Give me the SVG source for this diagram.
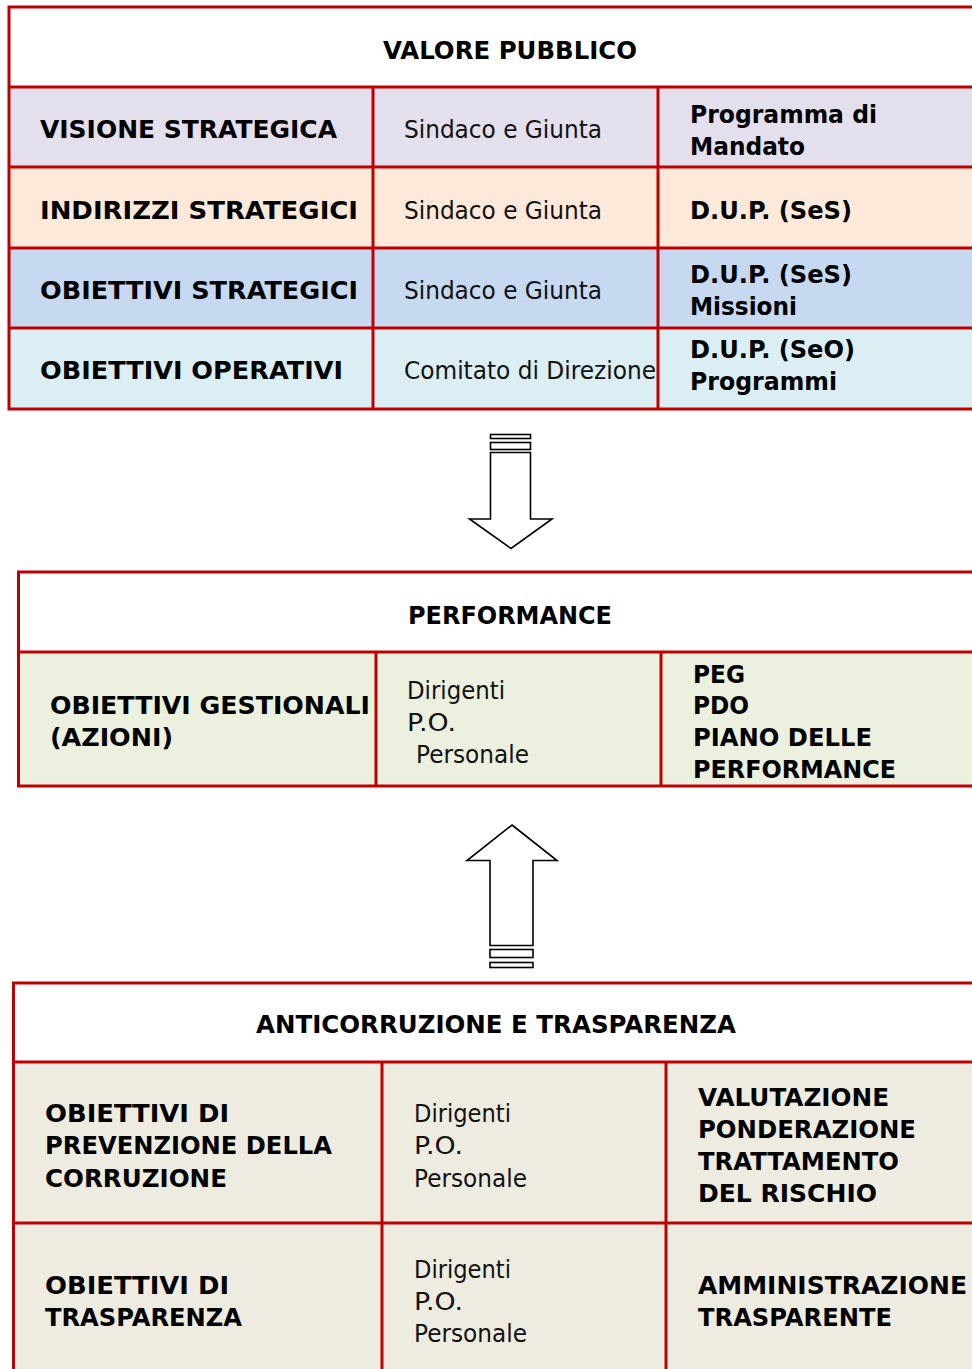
<svg xmlns="http://www.w3.org/2000/svg" width="972" height="1369" viewBox="0 0 972 1369">
<style>
.b{font-family:"DejaVu Sans",Verdana,sans-serif;font-weight:bold;font-size:25px;fill:#000}
.n{font-family:"DejaVu Sans",Verdana,sans-serif;font-size:25px;fill:#111}
.ln{stroke:#C00000;stroke-width:3;fill:none}
.ar{fill:#fff;stroke:#000;stroke-width:1.6;stroke-linejoin:miter}
</style>
<rect width="972" height="1369" fill="#fff"/>

<g id="valore-pubblico">
  <rect x="9" y="87" width="970" height="80" fill="#E4DFEC"/>
  <rect x="9" y="167" width="970" height="81" fill="#FDE9D9"/>
  <rect x="9" y="248" width="970" height="80" fill="#C6D9F1"/>
  <rect x="9" y="328" width="970" height="81" fill="#DAEEF3"/>
  <rect class="ln" x="9" y="7" width="975" height="402"/>
  <path class="ln" d="M9 87H980M9 167H980M9 248H980M9 328H980M373 87V409M658 87V409"/>
  <text class="b" x="383" y="59" textLength="254" lengthAdjust="spacingAndGlyphs">VALORE PUBBLICO</text>
  <g id="visione-strategica">
    <text class="b" x="40" y="138" textLength="297" lengthAdjust="spacingAndGlyphs">VISIONE STRATEGICA</text>
    <text class="n" x="404" y="138" textLength="198" lengthAdjust="spacingAndGlyphs">Sindaco e Giunta</text>
    <text class="b" x="690" y="123" textLength="187" lengthAdjust="spacingAndGlyphs">Programma di</text>
    <text class="b" x="690" y="155" textLength="115" lengthAdjust="spacingAndGlyphs">Mandato</text>
  </g>
  <g id="indirizzi-strategici">
    <text class="b" x="40" y="219" textLength="318" lengthAdjust="spacingAndGlyphs">INDIRIZZI STRATEGICI</text>
    <text class="n" x="404" y="219" textLength="198" lengthAdjust="spacingAndGlyphs">Sindaco e Giunta</text>
    <text class="b" x="690" y="219" textLength="162" lengthAdjust="spacingAndGlyphs">D.U.P. (SeS)</text>
  </g>
  <g id="obiettivi-strategici">
    <text class="b" x="40" y="299" textLength="318" lengthAdjust="spacingAndGlyphs">OBIETTIVI STRATEGICI</text>
    <text class="n" x="404" y="299" textLength="198" lengthAdjust="spacingAndGlyphs">Sindaco e Giunta</text>
    <text class="b" x="690" y="283" textLength="162" lengthAdjust="spacingAndGlyphs">D.U.P. (SeS)</text>
    <text class="b" x="690" y="315" textLength="107" lengthAdjust="spacingAndGlyphs">Missioni</text>
  </g>
  <g id="obiettivi-operativi">
    <text class="b" x="40" y="379" textLength="303" lengthAdjust="spacingAndGlyphs">OBIETTIVI OPERATIVI</text>
    <text class="n" x="404" y="379" textLength="252" lengthAdjust="spacingAndGlyphs">Comitato di Direzione</text>
    <text class="b" x="690" y="358" textLength="165" lengthAdjust="spacingAndGlyphs">D.U.P. (SeO)</text>
    <text class="b" x="690" y="390" textLength="147" lengthAdjust="spacingAndGlyphs">Programmi</text>
  </g>
</g>

<g id="performance">
  <rect x="18" y="652" width="960" height="134" fill="#EBF1DE"/>
  <rect class="ln" x="18.5" y="572" width="970" height="214"/>
  <path class="ln" d="M18 652H980M376 652V786M661 652V786"/>
  <text class="b" x="408" y="624" textLength="204" lengthAdjust="spacingAndGlyphs">PERFORMANCE</text>
  <g id="obiettivi-gestionali">
    <text class="b" x="50" y="714" textLength="320" lengthAdjust="spacingAndGlyphs">OBIETTIVI GESTIONALI</text>
    <text class="b" x="50" y="746" textLength="123" lengthAdjust="spacingAndGlyphs">(AZIONI)</text>
    <text class="n" x="407" y="699" textLength="98" lengthAdjust="spacingAndGlyphs">Dirigenti</text>
    <text class="n" x="407" y="731" textLength="49" lengthAdjust="spacingAndGlyphs">P.O.</text>
    <text class="n" x="416" y="763" textLength="113" lengthAdjust="spacingAndGlyphs">Personale</text>
    <text class="b" x="693" y="683" textLength="52" lengthAdjust="spacingAndGlyphs">PEG</text>
    <text class="b" x="693" y="714" textLength="56" lengthAdjust="spacingAndGlyphs">PDO</text>
    <text class="b" x="693" y="746" textLength="179" lengthAdjust="spacingAndGlyphs">PIANO DELLE</text>
    <text class="b" x="693" y="778" textLength="203" lengthAdjust="spacingAndGlyphs">PERFORMANCE</text>
  </g>
</g>

<g id="anticorruzione">
  <rect x="13" y="1062" width="965" height="310" fill="#EEECE1"/>
  <rect class="ln" x="13.5" y="983" width="975" height="400"/>
  <path class="ln" d="M13 1062H980M13 1223H980M382 1062V1372M666 1062V1372"/>
  <text class="b" x="256" y="1033" textLength="480" lengthAdjust="spacingAndGlyphs">ANTICORRUZIONE E TRASPARENZA</text>
  <g id="prevenzione-corruzione">
    <text class="b" x="45" y="1122" textLength="184" lengthAdjust="spacingAndGlyphs">OBIETTIVI DI</text>
    <text class="b" x="45" y="1154" textLength="287" lengthAdjust="spacingAndGlyphs">PREVENZIONE DELLA</text>
    <text class="b" x="45" y="1187" textLength="182" lengthAdjust="spacingAndGlyphs">CORRUZIONE</text>
    <text class="n" x="414" y="1122" textLength="97" lengthAdjust="spacingAndGlyphs">Dirigenti</text>
    <text class="n" x="414" y="1154" textLength="49" lengthAdjust="spacingAndGlyphs">P.O.</text>
    <text class="n" x="414" y="1187" textLength="113" lengthAdjust="spacingAndGlyphs">Personale</text>
    <text class="b" x="698" y="1106" textLength="191" lengthAdjust="spacingAndGlyphs">VALUTAZIONE</text>
    <text class="b" x="698" y="1138" textLength="218" lengthAdjust="spacingAndGlyphs">PONDERAZIONE</text>
    <text class="b" x="698" y="1170" textLength="201" lengthAdjust="spacingAndGlyphs">TRATTAMENTO</text>
    <text class="b" x="698" y="1202" textLength="179" lengthAdjust="spacingAndGlyphs">DEL RISCHIO</text>
  </g>
  <g id="trasparenza">
    <text class="b" x="45" y="1294" textLength="184" lengthAdjust="spacingAndGlyphs">OBIETTIVI DI</text>
    <text class="b" x="45" y="1326" textLength="197" lengthAdjust="spacingAndGlyphs">TRASPARENZA</text>
    <text class="n" x="414" y="1278" textLength="97" lengthAdjust="spacingAndGlyphs">Dirigenti</text>
    <text class="n" x="414" y="1310" textLength="49" lengthAdjust="spacingAndGlyphs">P.O.</text>
    <text class="n" x="414" y="1342" textLength="113" lengthAdjust="spacingAndGlyphs">Personale</text>
    <text class="b" x="698" y="1294" textLength="269" lengthAdjust="spacingAndGlyphs">AMMINISTRAZIONE</text>
    <text class="b" x="698" y="1326" textLength="194" lengthAdjust="spacingAndGlyphs">TRASPARENTE</text>
  </g>
</g>

<g id="connectors">
  <g id="arrow-down">
    <rect class="ar" x="490.5" y="434.5" width="40" height="4"/>
    <rect class="ar" x="490.5" y="442.5" width="40" height="7"/>
    <polygon class="ar" points="490.5,452.5 530.5,452.5 530.5,519 552,519 511,548.5 469.5,519 490.5,519"/>
  </g>
  <g id="arrow-up">
    <polygon class="ar" points="512,825 557,860.5 533,860.5 533,945.5 490,945.5 490,860.5 467,860.5"/>
    <rect class="ar" x="490" y="949.5" width="43" height="8"/>
    <rect class="ar" x="490" y="962.5" width="43" height="5"/>
  </g>
</g>
</svg>
